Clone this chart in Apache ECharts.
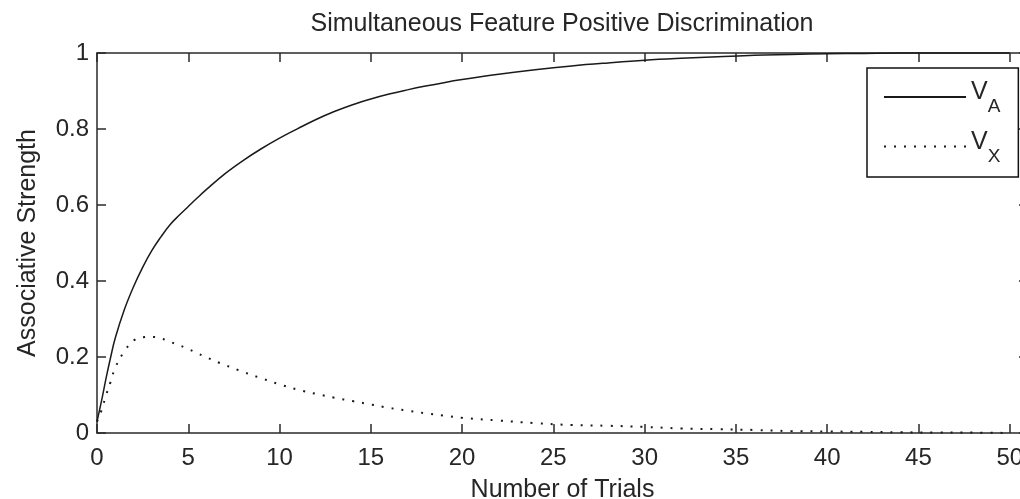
<!DOCTYPE html>
<html>
<head>
<meta charset="utf-8">
<script src="https://cdn.jsdelivr.net/npm/echarts@6/dist/echarts.min.js"></script>
<style>
html,body{margin:0;padding:0;background:#fff;}
#chart{width:1020px;height:499px;}
</style>
</head>
<body>
<div id="chart"></div>
<script>
// ---- data ----
var titleText = 'Simultaneous Feature Positive Discrimination';
var xAxisTitle = 'Number of Trials';
var yAxisTitle = 'Associative Strength';
var seriesNames = ['V_A', 'V_X'];
var trials = [0, 0.25, 0.5, 0.75, 1, 1.5, 2, 2.5, 3, 3.5, 4, 4.5, 5, 5.5, 6, 7, 8, 9, 10, 11, 12, 13, 14, 15, 16, 17, 18, 19, 20, 22, 24, 26, 28, 30, 32, 34, 36, 38, 40, 42, 44, 46, 48, 50];
var vA = [0.03, 0.085, 0.145, 0.2, 0.25, 0.325, 0.385, 0.436, 0.48, 0.516, 0.548, 0.573, 0.596, 0.619, 0.641, 0.682, 0.717, 0.748, 0.776, 0.801, 0.825, 0.846, 0.864, 0.879, 0.892, 0.903, 0.913, 0.922, 0.93, 0.944, 0.956, 0.966, 0.974, 0.981, 0.986, 0.99, 0.994, 0.996, 0.998, 0.999, 1.0, 1.0, 1.0, 1.0];
var vX = [0.03, 0.06, 0.1, 0.135, 0.172, 0.215, 0.243, 0.252, 0.253, 0.249, 0.24, 0.231, 0.221, 0.21, 0.199, 0.179, 0.161, 0.144, 0.128, 0.114, 0.103, 0.093, 0.084, 0.075, 0.066, 0.059, 0.052, 0.046, 0.04, 0.033, 0.026, 0.021, 0.019, 0.016, 0.012, 0.01, 0.008, 0.005, 0.004, 0.003, 0.002, 0.001, 0.001, 0.0];
var xTicks = [0, 5, 10, 15, 20, 25, 30, 35, 40, 45, 50];
var yTicks = [0, 0.2, 0.4, 0.6, 0.8, 1];

function pairs(xs, ys) { return xs.map(function (x, i) { return [x, ys[i]]; }); }

var FONT = "'Liberation Sans', Arial, sans-serif";
var TXT = '#262626';
var AX = '#2a2a2a';

var chart = echarts.init(document.getElementById('chart'), null, {renderer: 'canvas'});

var axisCommon = {
  axisLine: {show: true, onZero: false, lineStyle: {color: AX, width: 1.5}},
  axisTick: {show: true, inside: true, length: 9, lineStyle: {color: AX, width: 1.5}},
  splitLine: {show: false}
};

var option = {
  backgroundColor: '#fff',
  animation: false,
  title: {
    text: titleText,
    left: 557, top: 7, textAlign: 'center',
    textStyle: {fontFamily: FONT, fontSize: 25, fontWeight: 'normal', color: TXT}
  },
  grid: {left: 97, top: 53, width: 931, height: 380, containLabel: false, outerBoundsMode: 'none'},
  legend: {
    orient: 'vertical',
    left: 867, top: 68,
    padding: [12, 18, 11, 16],
    itemGap: 13,
    itemWidth: 82, itemHeight: 14,
    backgroundColor: '#fff',
    borderColor: '#111', borderWidth: 1.5, borderRadius: 0,
    itemStyle: {color: 'rgba(0,0,0,0)', borderColor: 'rgba(0,0,0,0)', borderWidth: 0},
    data: seriesNames,
    formatter: function (name) {
      var p = name.split('_');
      return '{v|' + p[0] + '}{s|' + p[1] + '}';
    },
    textStyle: {
      fontFamily: FONT, color: TXT,
      rich: {
        v: {fontFamily: FONT, fontSize: 25, color: TXT, padding: [0, 0, 9, 0]},
        s: {fontFamily: FONT, fontSize: 19, color: TXT, padding: [20, 0, 0, 0]}
      }
    }
  },
  xAxis: [
    Object.assign({
      type: 'value', position: 'bottom', min: 0, max: 51, interval: 5,
      name: xAxisTitle, nameLocation: 'middle', nameGap: 45,
      nameTextStyle: {fontFamily: FONT, fontSize: 25, color: TXT},
      axisLabel: {
        fontFamily: FONT, fontSize: 24, color: TXT, margin: 13,
        formatter: function (v) { return xTicks.indexOf(v) >= 0 ? String(v) : ''; }
      }
    }, axisCommon),
    Object.assign({
      type: 'value', position: 'top', min: 0, max: 51, interval: 5,
      axisLabel: {show: false}
    }, axisCommon)
  ],
  yAxis: [
    Object.assign({
      type: 'value', position: 'left', min: 0, max: 1, interval: 0.2,
      name: yAxisTitle, nameLocation: 'middle', nameGap: 56,
      nameTextStyle: {fontFamily: FONT, fontSize: 25, color: TXT},
      axisLabel: {
        fontFamily: FONT, fontSize: 24, color: TXT, margin: 8,
        formatter: function (v) {
          var r = Math.round(v * 10) / 10;
          return yTicks.indexOf(r) >= 0 ? String(r) : '';
        }
      }
    }, axisCommon),
    Object.assign({
      type: 'value', position: 'right', min: 0, max: 1, interval: 0.2,
      axisLabel: {show: false}
    }, axisCommon)
  ],
  series: [
    {
      name: seriesNames[0], type: 'line', xAxisIndex: 0, yAxisIndex: 0,
      data: pairs(trials, vA), symbol: 'none', showSymbol: false,
      smooth: 0.4, clip: false,
      lineStyle: {color: '#1a1a1a', width: 1.5, type: 'solid'},
      itemStyle: {color: '#1a1a1a'}
    },
    {
      name: seriesNames[1], type: 'line', xAxisIndex: 0, yAxisIndex: 0,
      data: pairs(trials, vX), symbol: 'none', showSymbol: false,
      smooth: 0.4, clip: false,
      lineStyle: {color: '#1a1a1a', width: 2, type: [2, 8]},
      itemStyle: {color: '#1a1a1a'}
    }
  ]
};
chart.setOption(option);
</script>
</body>
</html>
